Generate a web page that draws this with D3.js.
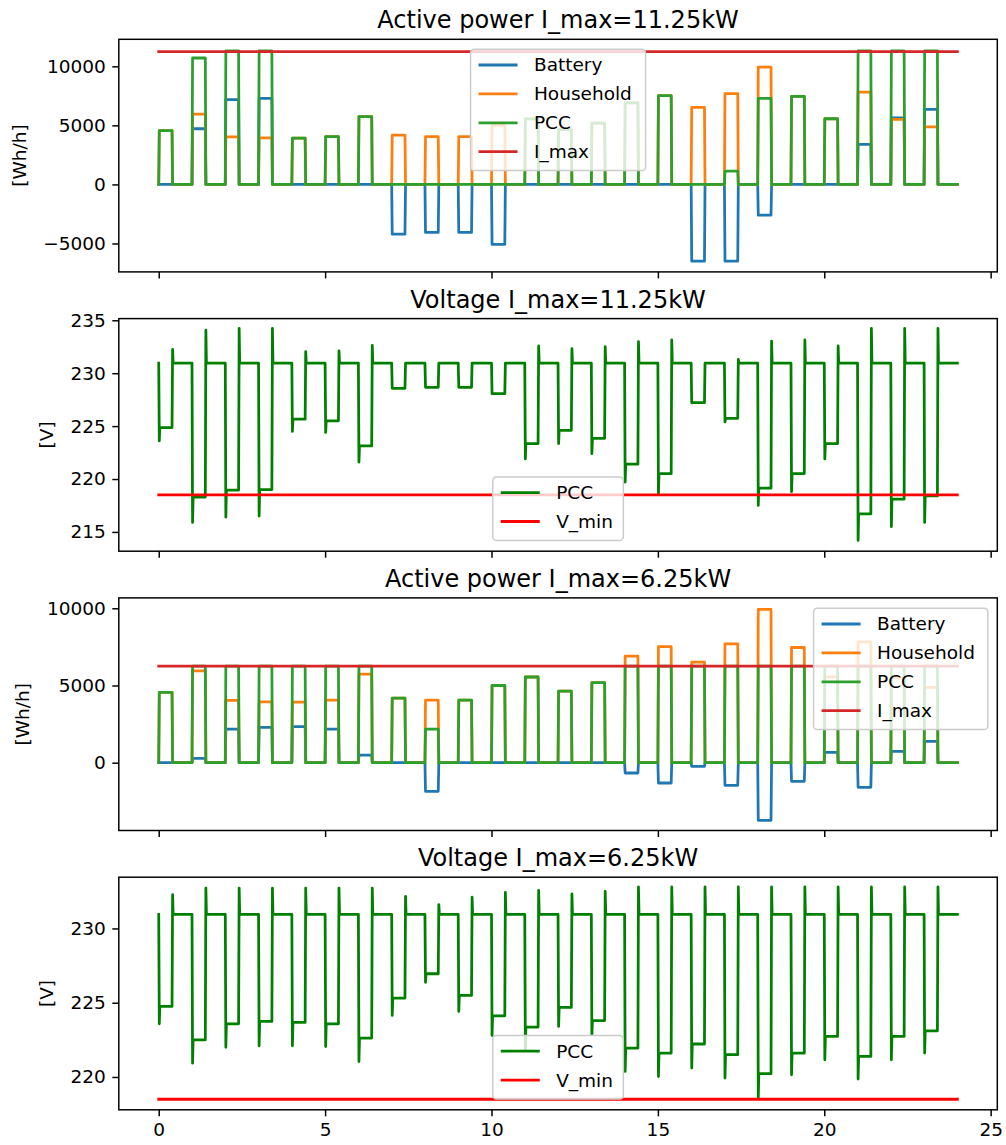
<!DOCTYPE html>
<html>
<head>
<meta charset="utf-8">
<script src="https://cdn.jsdelivr.net/npm/d3@7"></script>
<style>
  body { margin: 0; background: #fff; }
  svg text { font-family: "DejaVu Sans", sans-serif; fill: #000; }
</style>
</head>
<body>
<div id="chart"></div>
<script>
// start hour of each load pulse, pulse length in hours
const pulseStart = [0, 1, 2, 3, 4, 5, 6, 7, 8, 9, 10, 11, 12, 13, 14, 15, 16, 17, 18, 19, 20, 21, 22, 23]
const pulseLen = 0.4
const dt = 1 / 60

// household load [Wh/h], same in both runs
const household = [4555, 5950, 4030, 3935, 3920, 4045, 5740, 4180, 4045, 4045, 5000, 5550,
                   4640, 5190, 6900, 7515, 6515, 7695, 9930, 7460, 5560, 7820, 5510, 4877]

// I_max = 11.25 kW
const batteryA = [0, 4714, 7172, 7285, 0, 0, 0, -4212, -4068, -4068, -5085, 0,
                  0, 0, 0, 0, -6500, -6500, -2602, 0, 0, 3390, 5644, 6356]
const pccA = [4555, 10704, 11300, 11300, 3920, 4045, 5740, 0, 0, 0, 0, 5550,
              4640, 5190, 6900, 7515, 0, 1127, 7288, 7460, 5560, 11300, 11300, 11300]
const voltDipA = [223.6, 215.9, 216.4, 216.5, 224.5, 224.4, 221.6, 228.57, 228.67, 228.67, 228.07, 221.9,
                  223.35, 222.4, 219.7, 218.6, 227.2, 225.4, 217.5, 218.8, 221.9, 214.2, 215.5, 215.9]
const voltFlatA = [224.86, 218.3, 218.95, 219.0, 225.65, 225.5, 223.13, 228.57, 228.67, 228.67, 228.07, 223.35,
                   224.6, 223.85, 221.4, 220.5, 227.22, 225.74, 219.13, 220.52, 223.35, 216.7, 218.1, 218.4]
const voltPeakA = [232.26, 234.08, 234.24, 234.24, 232.04, 232.1, 232.63, 230.95, 230.95, 230.95, 230.95, 232.57,
                   232.32, 232.5, 232.98, 233.14, 230.95, 231.3, 233.04, 233.14, 232.57, 234.24, 234.24, 234.24]

// I_max = 6.25 kW
const batteryB = [0, 280, 2178, 2285, 2330, 2178, 496, 0, -1854, 0, 0, 0,
                  0, 0, -668, -1315, -237, -1466, -3730, -1207, 667, -1595, 733, 1380]
const pccB = [4555, 6250, 6250, 6250, 6250, 6250, 6250, 4180, 2178, 4045, 5000, 5550,
              4640, 5190, 6250, 6250, 6250, 6250, 6250, 6250, 6250, 6250, 6250, 6250]
const voltDipB = [223.58, 220.93, 222.0, 222.1, 222.1, 222.05, 221.04, 224.14, 226.37, 224.41, 222.8, 221.83,
                  223.4, 222.84, 220.37, 220.03, 220.6, 219.93, 218.58, 220.15, 221.16, 219.86, 221.16, 221.61]
const voltFlatB = [224.75, 222.5, 223.58, 223.74, 223.67, 223.58, 222.62, 225.31, 226.95, 225.49, 224.12, 223.36,
                   224.68, 223.8, 221.95, 221.61, 222.22, 221.5, 220.22, 221.6, 222.73, 221.38, 222.73, 223.11]
const voltPeakB = [232.27, 232.72, 232.72, 232.72, 232.72, 232.72, 232.72, 232.15, 231.6, 232.1, 232.42, 232.56,
                   232.32, 232.5, 232.79, 232.79, 232.79, 232.79, 232.79, 232.79, 232.79, 232.79, 232.79, 232.79]

const vBase = 230.95
const vMin = 218.5
const xTicks = [0, 5, 10, 15, 20, 25]

// turn pulse values into a time series
const powerSeries = vals => {
    const pts = []
    pulseStart.forEach((h, i) => {
        pts.push([h, 0], [h + dt, vals[i]], [h + pulseLen, vals[i]], [h + pulseLen + dt, 0])
    })
    pts.push([24, 0])
    return pts
}
const voltSeries = (dip, flat, peak) => {
    const pts = []
    pulseStart.forEach((h, i) => {
        pts.push([h, vBase], [h + dt, dip[i]], [h + 2 * dt, flat[i]], [h + pulseLen, flat[i]],
                 [h + pulseLen + dt, peak[i]], [h + pulseLen + 2 * dt, vBase])
    })
    pts.push([24, vBase])
    return pts
}
const flatLine = v => [[0, v], [24, v]]

const W = 1006, H = 1145
const ml = 118.8, mr = 997.3
const panelH = 232.6
const fs = 18.5

const svg = d3.select('#chart').append('svg')
    .attr('width', W).attr('height', H)
    .attr('viewBox', [0, 0, W, H])

const x = d3.scaleLinear().domain([-1.2, 25.2]).range([ml, mr])
const fmt = v => v < 0 ? '\u2212' + Math.abs(v) : String(v)

const panels = [
    {
        top: 39.3, title: 'Active power I_max=11.25kW', ylabel: '[Wh/h]', ylabelX: 19.5,
        domain: [-7407, 12288], ticks: [-5000, 0, 5000, 10000],
        series: [
            { name: 'Battery', color: '#1f77b4', data: powerSeries(batteryA) },
            { name: 'Household', color: '#ff7f0e', data: powerSeries(household) },
            { name: 'PCC', color: '#2ca02c', data: powerSeries(pccA) },
            { name: 'I_max', color: '#d62728', data: flatLine(11250) },
        ],
        legend: { w: 175, pos: 'top-center' },
    },
    {
        top: 318.6, title: 'Voltage I_max=11.25kW', ylabel: '[V]', ylabelX: 47,
        domain: [213.18, 235.16], ticks: [215, 220, 225, 230, 235],
        series: [
            { name: 'PCC', color: '#008000', data: voltSeries(voltDipA, voltFlatA, voltPeakA) },
            { name: 'V_min', color: '#ff0000', data: flatLine(vMin) },
        ],
        legend: { w: 130.6, pos: 'bottom-center' },
    },
    {
        top: 597.9, title: 'Active power I_max=6.25kW', ylabel: '[Wh/h]', ylabelX: 23,
        domain: [-4392, 10673], ticks: [0, 5000, 10000],
        series: [
            { name: 'Battery', color: '#1f77b4', data: powerSeries(batteryB) },
            { name: 'Household', color: '#ff7f0e', data: powerSeries(household) },
            { name: 'PCC', color: '#2ca02c', data: powerSeries(pccB) },
            { name: 'I_max', color: '#d62728', data: flatLine(6250) },
        ],
        legend: { w: 174.2, pos: 'top-right' },
    },
    {
        top: 877.2, title: 'Voltage I_max=6.25kW', ylabel: '[V]', ylabelX: 47,
        domain: [217.79, 233.45], ticks: [220, 225, 230],
        series: [
            { name: 'PCC', color: '#008000', data: voltSeries(voltDipB, voltFlatB, voltPeakB) },
            { name: 'V_min', color: '#ff0000', data: flatLine(vMin) },
        ],
        legend: { w: 130.6, pos: 'bottom-center' },
    },
]

panels.forEach((p, idx) => {
    const bottom = p.top + panelH
    const y = d3.scaleLinear().domain(p.domain).range([bottom, p.top])
    const g = svg.append('g')

    // data lines
    const line = d3.line().x(d => x(d[0])).y(d => y(d[1]))
    p.series.forEach(s => {
        g.append('path')
            .datum(s.data)
            .attr('d', line)
            .attr('fill', 'none')
            .attr('stroke', s.color)
            .attr('stroke-width', 2.77)
            .attr('stroke-linejoin', 'round')
            .attr('stroke-linecap', 'square')
    })

    // frame
    g.append('rect')
        .attr('x', ml).attr('y', p.top)
        .attr('width', mr - ml).attr('height', panelH)
        .attr('fill', 'none').attr('stroke', '#000').attr('stroke-width', 1.48)

    // x axis ticks (labels on the last panel only)
    const xa = g.append('g').attr('transform', `translate(0,${bottom})`)
        .call(d3.axisBottom(x).tickValues(xTicks).tickSize(6.5).tickPadding(6.5)
            .tickFormat(idx === panels.length - 1 ? fmt : ''))
    xa.select('.domain').remove()
    xa.selectAll('line').attr('stroke-width', 1.48)
    xa.selectAll('text').attr('font-size', fs).attr('font-family', '"DejaVu Sans", sans-serif')

    // y axis
    const ya = g.append('g').attr('transform', `translate(${ml},0)`)
        .call(d3.axisLeft(y).tickValues(p.ticks).tickSize(6.5).tickPadding(6.5).tickFormat(fmt))
    ya.select('.domain').remove()
    ya.selectAll('line').attr('stroke-width', 1.48)
    ya.selectAll('text').attr('font-size', fs).attr('font-family', '"DejaVu Sans", sans-serif')

    // title and y label
    g.append('text')
        .attr('x', (ml + mr) / 2).attr('y', p.top - 11)
        .attr('text-anchor', 'middle')
        .attr('font-size', 24)
        .text(p.title)
    g.append('text')
        .attr('transform', `translate(${p.ylabelX},${p.top + panelH / 2}) rotate(-90)`)
        .attr('text-anchor', 'middle')
        .attr('dy', '0.35em')
        .attr('font-size', fs)
        .text(p.ylabel)

    // legend
    const n = p.series.length
    const lh = 5.7 + n * 28.9
    let lx, ly
    if (p.legend.pos === 'top-center') { lx = (ml + mr) / 2 - p.legend.w / 2; ly = p.top + 10 }
    else if (p.legend.pos === 'top-right') { lx = mr - 9.5 - p.legend.w; ly = p.top + 10.4 }
    else { lx = (ml + mr) / 2 - p.legend.w / 2; ly = bottom - 10.8 - lh }
    const lg = g.append('g').attr('transform', `translate(${lx},${ly})`)
    lg.append('rect')
        .attr('width', p.legend.w).attr('height', lh)
        .attr('rx', 3.7)
        .attr('fill', '#fff').attr('fill-opacity', 0.8)
        .attr('stroke', '#cccccc').attr('stroke-width', 1.48)
    p.series.forEach((s, i) => {
        const ry = 15.7 + i * 28.9
        lg.append('line')
            .attr('x1', 8).attr('x2', 47)
            .attr('y1', ry).attr('y2', ry)
            .attr('stroke', s.color).attr('stroke-width', 2.77)
        lg.append('text')
            .attr('x', 63.4).attr('y', ry)
            .attr('dy', '0.35em')
            .attr('font-size', fs)
            .text(s.name)
    })
})
</script>
</body>
</html>
